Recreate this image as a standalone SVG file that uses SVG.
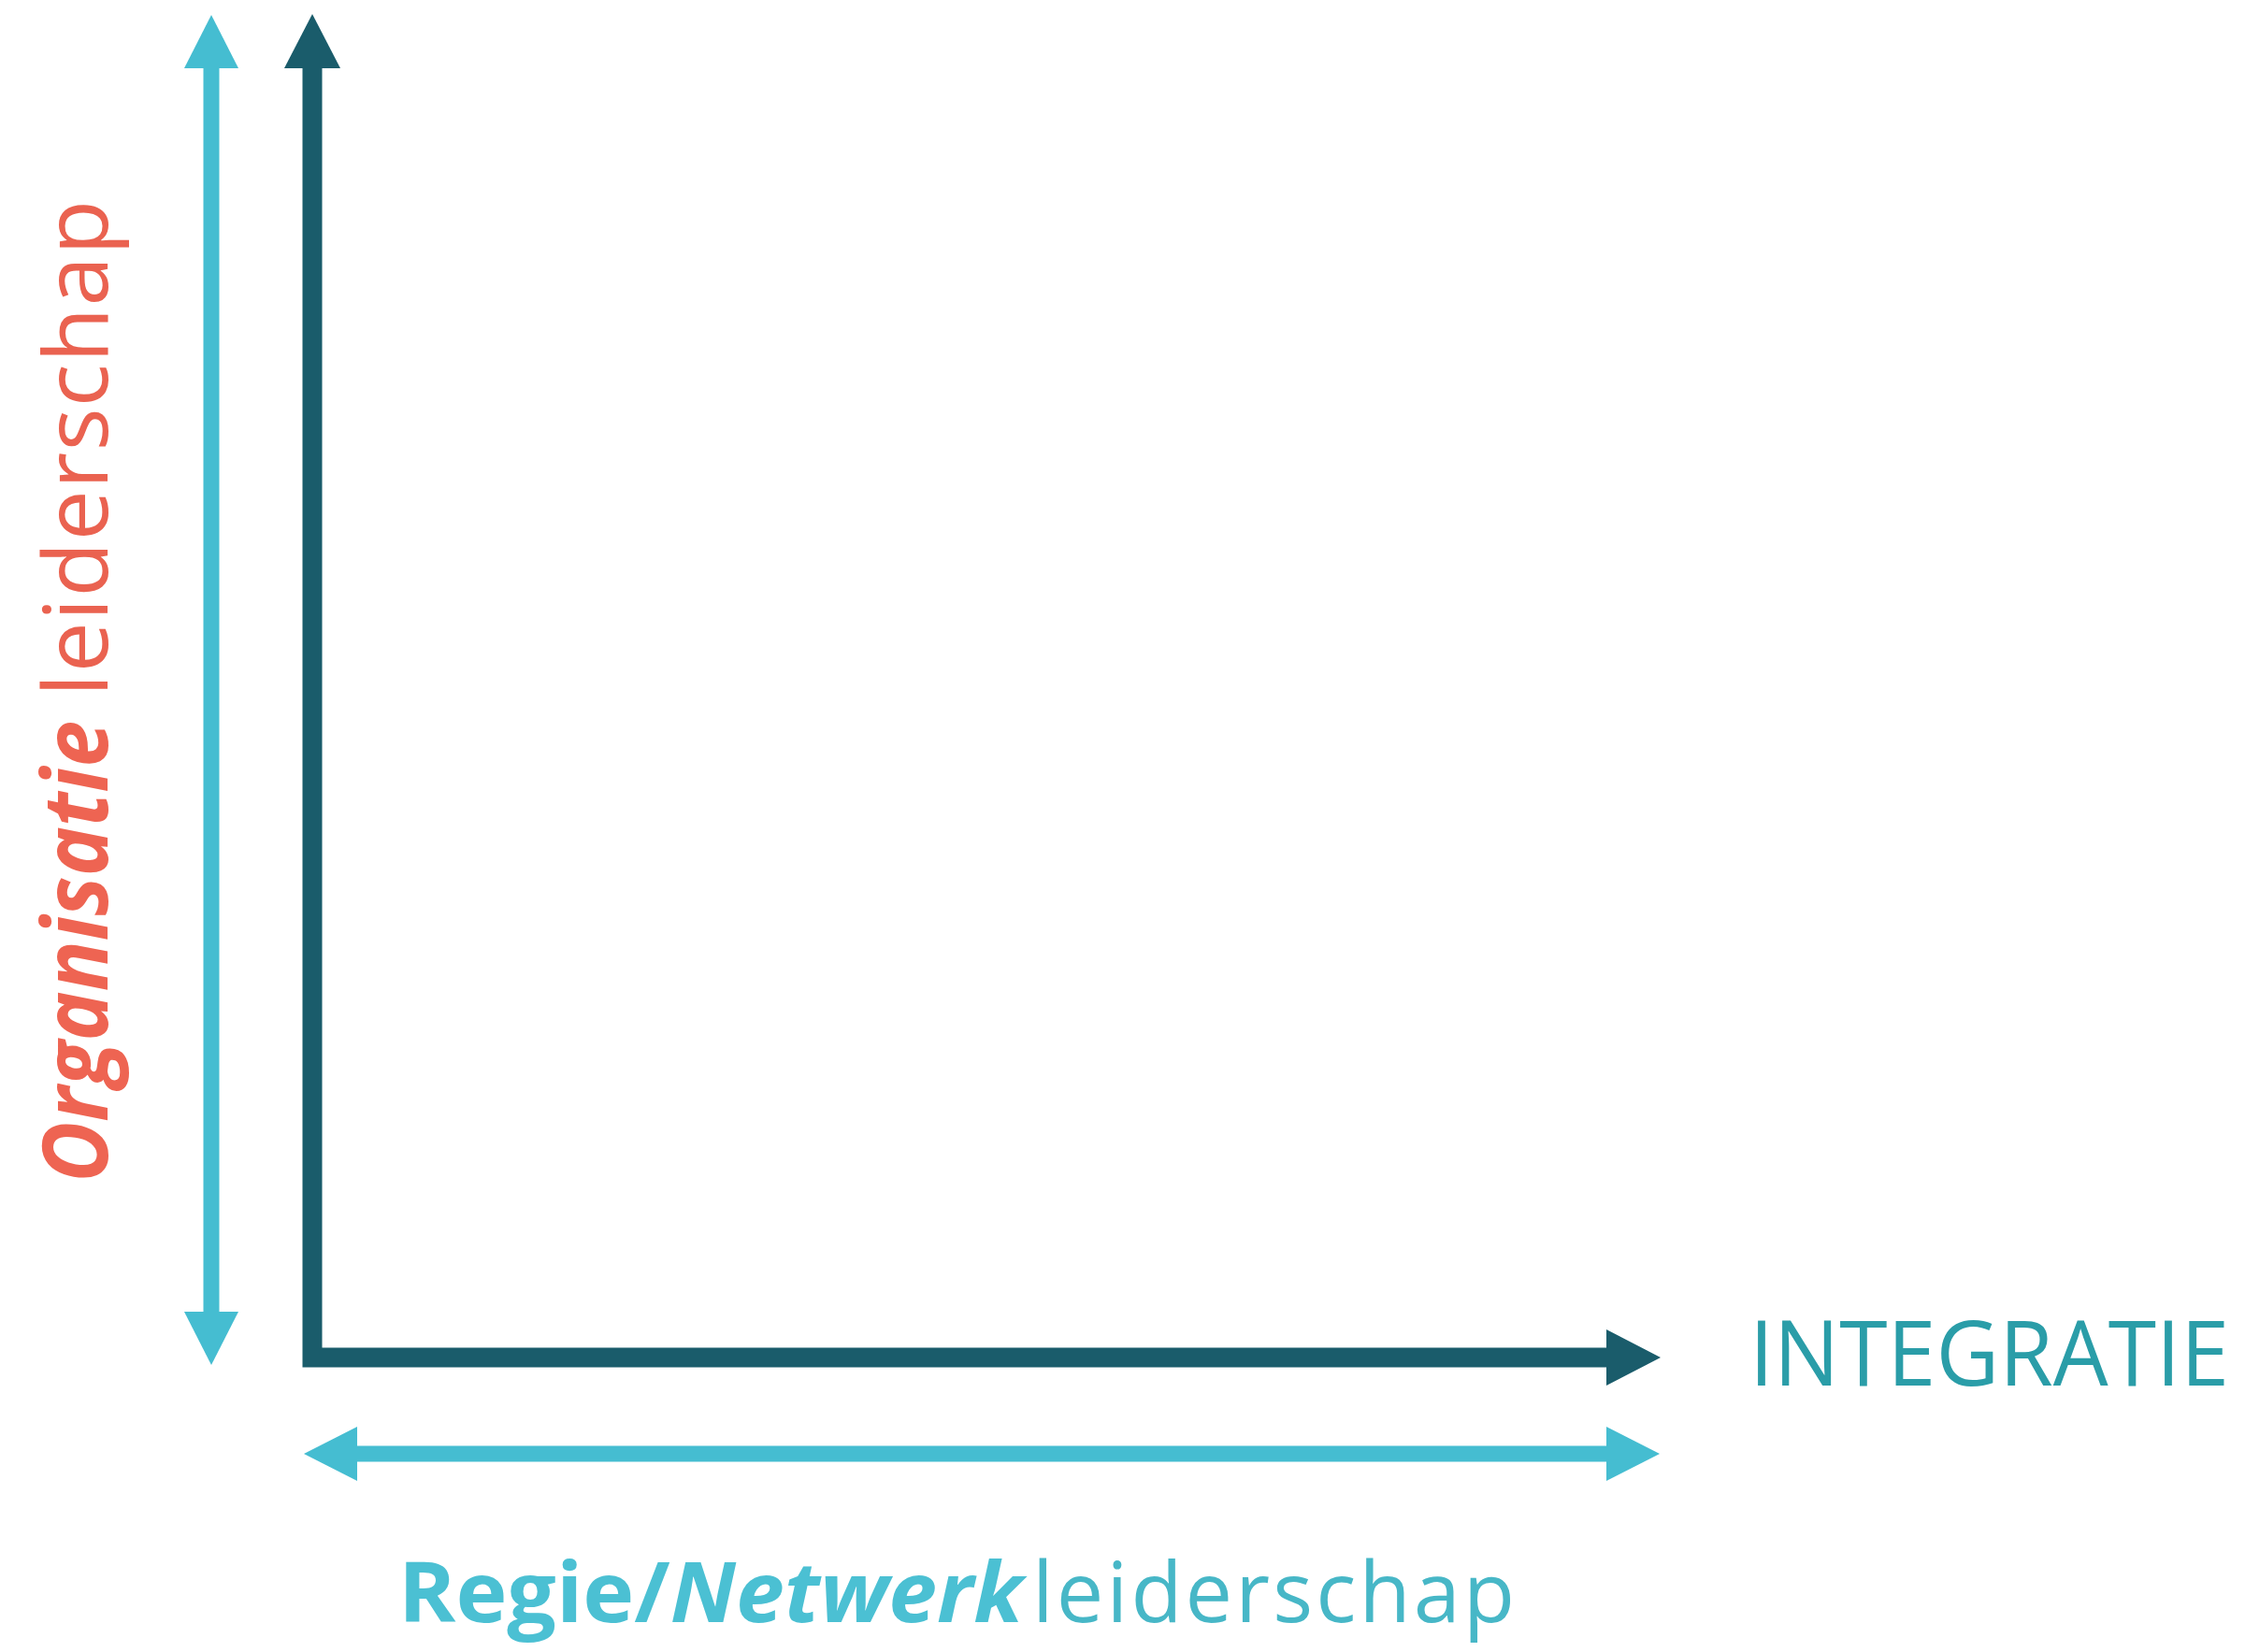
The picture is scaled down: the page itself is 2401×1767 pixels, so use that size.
<svg xmlns="http://www.w3.org/2000/svg" width="2401" height="1767" viewBox="0 0 2401 1767">
  <style>
    .lb { fill: none; stroke: #45BDD1; stroke-width: 17; }
    .dk { fill: none; stroke: #1A5C6B; stroke-width: 21; stroke-linejoin: miter; }
    .t { font-family: "Open Sans", "Liberation Sans", sans-serif; }
    .bi { font-weight: 700; font-style: italic; }
    .b { font-weight: 700; }
    .l { font-weight: 400; }
  </style>
  <defs>
    <marker id="hLb" markerUnits="userSpaceOnUse" markerWidth="58" markerHeight="58" viewBox="0 0 58 58" refX="0" refY="29" orient="auto-start-reverse">
      <path d="M0,0 L57,29 L0,58 Z" fill="#45BDD1"/>
    </marker>
    <marker id="hDk" markerUnits="userSpaceOnUse" markerWidth="60" markerHeight="60" viewBox="0 0 60 60" refX="0" refY="30" orient="auto-start-reverse">
      <path d="M0,0 L58,30 L0,60 Z" fill="#1A5C6B"/>
    </marker>
  </defs>
  <rect width="2401" height="1767" fill="#FFFFFF"/>
  <g id="connectors">
    <line class="lb" x1="226" y1="73" x2="226" y2="1403" marker-start="url(#hLb)" marker-end="url(#hLb)"/>
    <line class="lb" x1="382" y1="1555" x2="1718" y2="1555" marker-start="url(#hLb)" marker-end="url(#hLb)"/>
    <path class="dk" d="M334,73 L334,1452 L1718,1452" marker-start="url(#hDk)" marker-end="url(#hDk)"/>
  </g>
  <g id="label-integratie">
    <text class="t l" x="1871" y="1482" font-size="97" fill="#2A9DA8" textLength="513" lengthAdjust="spacingAndGlyphs">INTEGRATIE</text>
  </g>
  <g id="label-organisatie" transform="translate(115,1265) rotate(-90)">
    <text class="t bi" x="0" y="0" font-size="96" fill="#EE6452" textLength="494" lengthAdjust="spacingAndGlyphs">Organisatie</text>
    <text class="t l" x="520" y="0" font-size="96" fill="#EA6250" textLength="531" lengthAdjust="spacing">leiderschap</text>
  </g>
  <g id="label-regie">
    <text class="t" x="426" y="1735" font-size="90" fill="#4BC0D3" textLength="668" lengthAdjust="spacingAndGlyphs"><tspan class="b">Regie/</tspan><tspan class="bi">Netwerk</tspan></text>
    <text class="t l" x="1104" y="1735" font-size="90" fill="#47B7C7" textLength="516" lengthAdjust="spacing">leiderschap</text>
  </g>
</svg>
